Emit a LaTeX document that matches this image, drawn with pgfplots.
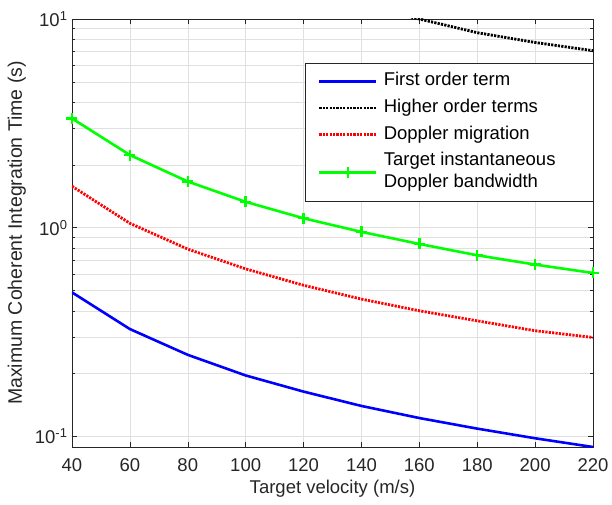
\documentclass[border=0pt]{standalone}
\usepackage{pgfplots}
\pgfplotsset{compat=1.18}
\usepackage{fontspec}
\setmainfont{Liberation Sans}
\definecolor{axgray}{gray}{0.15}
\definecolor{gridgray}{gray}{0.88}
\newcommand{\lent}[1]{\makebox[190pt][l]{\strut #1}}
\begin{document}
\begin{tikzpicture}
\useasboundingbox (-72pt,-57pt) rectangle (540pt,447pt);
\begin{axis}[
  scale only axis,
  width=521pt, height=428pt,
  at={(0,0)}, anchor=south west,
  ymode=log,
  xmin=40, xmax=220, ymin=0.089, ymax=10,
  xtick={40,60,...,220},
  ytick={0.1,1,10},
  yticklabels={10\textsuperscript{-1},10\textsuperscript{0},10\textsuperscript{1}},
  /pgf/number format/assume math mode=true,
  tick align=inside,
  tick pos=both,
  major tick length=5pt, minor tick length=3pt,
  axis line style={axgray, line width=0.6pt},
  tick style={axgray, line width=0.5pt},
  xmajorgrids, ymajorgrids, yminorgrids,
  grid style={gridgray, line width=0.5pt},
  minor grid style={gridgray, line width=0.5pt},
  ticklabel style={font=\fontsize{18.5}{22}\selectfont, text=axgray},
  xticklabel style={yshift=-8pt},
  yticklabel style={xshift=-1pt},
  xlabel={Target velocity (m/s)},
  ylabel={Maximum Coherent Integration Time (s)},
  label style={font=\fontsize{18.5}{22}\selectfont, text=axgray},
  xlabel style={yshift=-2pt},
  ylabel style={font=\fontsize{19.5}{22}\selectfont, yshift=2pt},
  legend cell align=left,
  legend style={at={(rel axis cs:1,0.897)}, anchor=north east,
    font=\fontsize{18.5}{22}\selectfont, draw=axgray, fill=white,
    cells={align=left},
    inner xsep=13pt, inner ysep=7pt,
    row sep=4.7pt, column sep=0pt,
    nodes={inner xsep=6pt, inner ysep=0pt, text depth=, text=black}},
  legend image code/.code={
    \draw[mark repeat=2, mark phase=2, #1] plot coordinates {(0pt,0pt) (28.5pt,0pt) (57pt,0pt)};},
  clip=true,
]
\addplot[blue, line width=2.6pt] coordinates {
(40,0.49) (60,0.327) (80,0.246) (100,0.196) (120,0.164) (140,0.140) (160,0.1225) (180,0.109) (200,0.098) (220,0.089)};
\addlegendentry{\lent{First order term}}
\addplot[black, line width=2.8pt, dash pattern=on 2.2pt off 1.2pt] coordinates {
(140,11.6) (160,10.0) (180,8.6) (200,7.72) (220,7.05)};
\addlegendentry{\lent{Higher order terms}}
\addplot[red, line width=2.8pt, dash pattern=on 2.2pt off 1.2pt] coordinates {
(40,1.58) (60,1.05) (80,0.79) (100,0.635) (120,0.53) (140,0.455) (160,0.40) (180,0.358) (200,0.321) (220,0.298)};
\addlegendentry{\lent{Doppler migration}}
\addplot[green, line width=2.6pt, mark=+, mark size=5.5pt, mark options={line width=2.4pt, solid}] coordinates {
(40,3.34) (60,2.23) (80,1.665) (100,1.33) (120,1.11) (140,0.955) (160,0.836) (180,0.738) (200,0.666) (220,0.607)};
\addlegendentry{\lent{Target instantaneous}\\\lent{Doppler bandwidth}}
\end{axis}
\end{tikzpicture}
\end{document}
